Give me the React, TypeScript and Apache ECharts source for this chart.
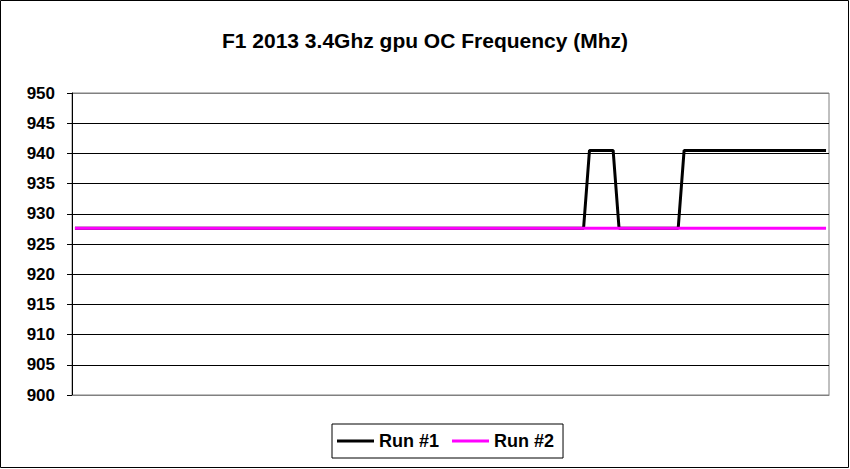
import React, { useEffect, useRef } from "react";
import * as echarts from "echarts";

const titleText = "F1 2013 3.4Ghz gpu OC Frequency (Mhz)";
const seriesNames = ["Run #1", "Run #2"];
const yTicks = { min: 900, max: 950, interval: 5 };

// Run #1 samples (Mhz)
const runOne: number[] = [
  927.6, 927.6, 927.6, 927.6, 927.6, 927.6, 927.6, 927.6, 927.6, 927.6,
  927.6, 927.6, 927.6, 927.6, 927.6, 927.6, 927.6, 927.6, 927.6, 927.6,
  927.6, 927.6, 927.6, 927.6, 927.6, 927.6, 927.6, 927.6, 927.6, 927.6,
  927.6, 927.6, 927.6, 927.6, 927.6, 927.6, 927.6, 927.6, 927.6, 927.6,
  927.6, 927.6, 927.6, 927.6, 927.6, 927.6, 927.6, 927.6, 927.6, 927.6,
  927.6, 927.6, 927.6, 927.6, 927.6, 927.6, 927.6, 927.6, 927.6, 927.6,
  927.6, 927.6, 927.6, 927.6, 927.6, 927.6, 927.6, 927.6, 927.6, 927.6,
  927.6, 927.6, 927.6, 927.6, 927.6, 927.6, 927.6, 927.6, 927.6, 927.6,
  927.6, 927.6, 927.6, 927.6, 927.6, 927.6, 927.6, 940.5, 940.5, 940.5,
  940.5, 940.5, 927.6, 927.6, 927.6, 927.6, 927.6, 927.6, 927.6, 927.6,
  927.6, 927.6, 927.6, 940.5, 940.5, 940.5, 940.5, 940.5, 940.5, 940.5,
  940.5, 940.5, 940.5, 940.5, 940.5, 940.5, 940.5, 940.5, 940.5, 940.5,
  940.5, 940.5, 940.5, 940.5, 940.5, 940.5, 940.5, 940.5,
];

// Run #2 samples (Mhz)
const runTwo: number[] = [
  927.6, 927.6, 927.6, 927.6, 927.6, 927.6, 927.6, 927.6, 927.6, 927.6,
  927.6, 927.6, 927.6, 927.6, 927.6, 927.6, 927.6, 927.6, 927.6, 927.6,
  927.6, 927.6, 927.6, 927.6, 927.6, 927.6, 927.6, 927.6, 927.6, 927.6,
  927.6, 927.6, 927.6, 927.6, 927.6, 927.6, 927.6, 927.6, 927.6, 927.6,
  927.6, 927.6, 927.6, 927.6, 927.6, 927.6, 927.6, 927.6, 927.6, 927.6,
  927.6, 927.6, 927.6, 927.6, 927.6, 927.6, 927.6, 927.6, 927.6, 927.6,
  927.6, 927.6, 927.6, 927.6, 927.6, 927.6, 927.6, 927.6, 927.6, 927.6,
  927.6, 927.6, 927.6, 927.6, 927.6, 927.6, 927.6, 927.6, 927.6, 927.6,
  927.6, 927.6, 927.6, 927.6, 927.6, 927.6, 927.6, 927.6, 927.6, 927.6,
  927.6, 927.6, 927.6, 927.6, 927.6, 927.6, 927.6, 927.6, 927.6, 927.6,
  927.6, 927.6, 927.6, 927.6, 927.6, 927.6, 927.6, 927.6, 927.6, 927.6,
  927.6, 927.6, 927.6, 927.6, 927.6, 927.6, 927.6, 927.6, 927.6, 927.6,
  927.6, 927.6, 927.6, 927.6, 927.6, 927.6, 927.6, 927.6,
];

const sampleLabels: string[] = runOne.map((_, i) => String(i + 1));

const FONT = 'Arial, "Liberation Sans", sans-serif';

export default function App() {
  const ref = useRef<HTMLDivElement>(null);

  useEffect(() => {
    document.body.style.margin = "0";
    if (!ref.current) return;
    const chart = echarts.init(ref.current, null, { renderer: "svg" });
    const gridColors = ["#808080", "#000", "#000", "#000", "#000", "#000", "#000", "#000", "#000", "#000", "#808080"];
    chart.setOption({
      animation: false,
      backgroundColor: "#fff",
      title: {
        text: titleText,
        left: "center",
        top: 25,
        textStyle: { fontFamily: FONT, fontSize: 21, fontWeight: "bold", color: "#000" },
      },
      legend: {
        data: seriesNames,
        left: 332,
        top: 424,
        orient: "horizontal",
        icon: "rect",
        itemWidth: 37,
        itemHeight: 3,
        itemGap: 13,
        padding: [8, 9, 8, 5],
        borderColor: "#000",
        borderWidth: 1,
        textStyle: { fontFamily: FONT, fontSize: 18, fontWeight: "bold", color: "#000" },
      },
      grid: {
        left: 72,
        right: 21,
        top: 93,
        bottom: 74,
        show: true,
        borderColor: "#808080",
        borderWidth: 1,
        backgroundColor: "transparent",
      },
      xAxis: {
        type: "category",
        data: sampleLabels,
        boundaryGap: true,
        axisLine: { show: true, lineStyle: { color: "#808080", width: 1 } },
        axisTick: { show: false },
        axisLabel: { show: false },
        splitLine: { show: false },
      },
      yAxis: {
        type: "value",
        min: yTicks.min,
        max: yTicks.max,
        interval: yTicks.interval,
        axisLine: { show: true, lineStyle: { color: "#000", width: 1 } },
        axisTick: { show: true, inside: false, length: 5, lineStyle: { color: "#000", width: 1 } },
        axisLabel: {
          margin: 17,
          fontFamily: FONT,
          fontSize: 17,
          fontWeight: "bold",
          color: "#000",
        },
        splitLine: { show: true, lineStyle: { color: gridColors, width: 1 } },
      },
      series: [
        {
          name: seriesNames[0],
          type: "line",
          data: runOne,
          symbol: "none",
          lineStyle: { color: "#000", width: 3 },
          itemStyle: { color: "#000" },
        },
        {
          name: seriesNames[1],
          type: "line",
          data: runTwo,
          symbol: "none",
          lineStyle: { color: "#FF00FF", width: 3 },
          itemStyle: { color: "#FF00FF" },
        },
      ],
      graphic: [
        {
          type: "rect",
          shape: { x: 0.5, y: 0.5, width: 848, height: 467 },
          style: { fill: "none", stroke: "#000", lineWidth: 1 },
          silent: true,
          z: 100,
        },
      ],
    });
    return () => chart.dispose();
  }, []);

  return <div ref={ref} style={{ width: 850, height: 469 }} />;
}
